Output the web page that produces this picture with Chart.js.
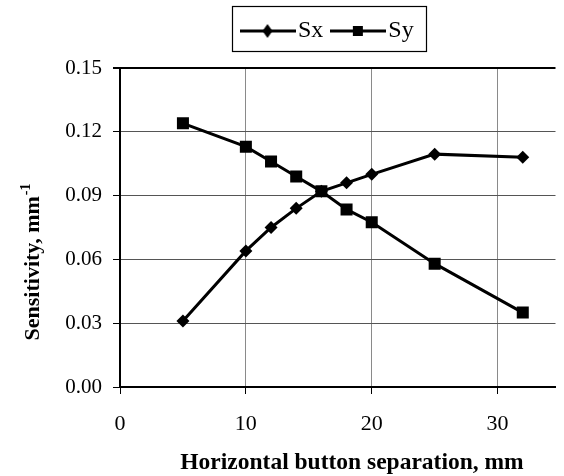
<!DOCTYPE html>
<html>
<head>
<meta charset="utf-8">
<script src="https://cdn.jsdelivr.net/npm/chart.js@4.4.1/dist/chart.umd.min.js"></script>
<style>
  html, body { margin: 0; padding: 0; background: #fff; overflow: hidden; }
  #wrap { width: 564px; height: 476px; position: relative; }
</style>
</head>
<body>
<div id="wrap"><canvas id="c" width="564" height="476"></canvas></div>
<script>
// ---- data ----
const separations = [5, 10, 12, 14, 16, 18, 20, 25, 32];
const sxValues = [0.031, 0.064, 0.075, 0.084, 0.092, 0.096, 0.100, 0.1095, 0.108];
const syValues = [0.124, 0.113, 0.106, 0.099, 0.092, 0.0835, 0.0775, 0.058, 0.035];
const seriesNames = ['Sx', 'Sy'];
const yTicks = [0, 0.03, 0.06, 0.09, 0.12, 0.15];
const xTicks = [0, 10, 20, 30];
const xTitle = 'Horizontal button separation, mm';
const yTitle = 'Sensitivity, mm';
const yTitleSup = '-1';

const FONT = "'Liberation Serif', 'Times New Roman', serif";

function legendSymbol(kind) {
  const c = document.createElement('canvas');
  c.width = 56; c.height = 16;
  const g = c.getContext('2d');
  g.strokeStyle = '#000'; g.lineWidth = 3;
  g.beginPath(); g.moveTo(0, 8); g.lineTo(56, 8); g.stroke();
  g.fillStyle = '#000';
  g.beginPath();
  if (kind === 'diamond') {
    g.moveTo(28, 1); g.lineTo(33, 8); g.lineTo(28, 15); g.lineTo(23, 8);
  } else {
    g.rect(23, 3, 10, 10);
  }
  g.closePath(); g.fill();
  return c;
}
const symSx = legendSymbol('diamond');
const symSy = legendSymbol('square');

const legendTweak = {
  id: 'legendTweak',
  afterLayout(chart) {
    const lg = chart.legend;
    if (!lg || !lg.lineWidths) return;
    const pad = lg.options.labels.padding;
    const cur = (lg.left + pad + lg.right - lg.lineWidths[0]) / 2;
    const shift = 249 - cur;
    lg.left += shift; lg.right += shift;
    lg.top = 3;
  },
  afterDraw(chart) {
    const ctx = chart.ctx;
    ctx.save();
    // legend frame
    ctx.strokeStyle = '#000';
    ctx.lineWidth = 1.2;
    ctx.strokeRect(232.5, 6.5, 194, 45);
    // axis titles
    ctx.fillStyle = '#000';
    ctx.textBaseline = 'alphabetic';
    // x title
    ctx.font = 'bold 23.5px ' + FONT;
    ctx.textAlign = 'center';
    ctx.fillText(xTitle, 352, 469);
    // y title (rotated) with superscript
    ctx.font = 'bold 22px ' + FONT;
    const wMain = ctx.measureText(yTitle).width;
    ctx.font = 'bold 14px ' + FONT;
    const wSup = ctx.measureText(yTitleSup).width;
    const total = wMain + 1 + wSup;
    ctx.translate(39, 262);
    ctx.rotate(-Math.PI / 2);
    ctx.textAlign = 'left';
    ctx.font = 'bold 22px ' + FONT;
    ctx.fillText(yTitle, -total / 2, 0);
    ctx.font = 'bold 14px ' + FONT;
    ctx.fillText(yTitleSup, -total / 2 + wMain + 1, -9);
    ctx.restore();
  }
};

const ctx = document.getElementById('c').getContext('2d');
new Chart(ctx, {
  type: 'line',
  data: {
    datasets: [
      {
        label: seriesNames[0],
        data: separations.map((x, i) => ({ x: x, y: sxValues[i] })),
        borderColor: '#000', backgroundColor: '#000', borderWidth: 3,
        pointStyle: 'rectRot', pointRadius: 6.5, pointBorderWidth: 0,
        pointBackgroundColor: '#000', tension: 0
      },
      {
        label: seriesNames[1],
        data: separations.map((x, i) => ({ x: x, y: syValues[i] })),
        borderColor: '#000', backgroundColor: '#000', borderWidth: 3,
        pointStyle: 'rect', pointRadius: 8.5, pointBorderWidth: 0,
        pointBackgroundColor: '#000', tension: 0
      }
    ]
  },
  options: {
    responsive: false,
    animation: false,
    layout: { padding: { top: 18, left: 0, right: 0, bottom: 0 } },
    plugins: {
      tooltip: { enabled: false },
      legend: {
        position: 'top',
        labels: {
          usePointStyle: true,
          pointStyleWidth: 37,
          padding: 16,
          color: '#000',
          font: { family: FONT, size: 24 },
          generateLabels(chart) {
            return chart.data.datasets.map((d, i) => ({
              text: d.label,
              pointStyle: i === 0 ? symSx : symSy,
              fillStyle: '#000', strokeStyle: '#000', lineWidth: 0,
              hidden: false, datasetIndex: i, fontColor: '#000'
            }));
          }
        }
      }
    },
    scales: {
      x: {
        type: 'linear',
        min: 0, max: 34.6,
        afterBuildTicks(axis) { axis.ticks = xTicks.map(v => ({ value: v })); },
        afterFit(axis) { axis.height = 89; },
        ticks: { color: '#000', font: { family: FONT, size: 22 }, padding: 17, maxRotation: 0 },
        grid: { color: '#8a8a8a', lineWidth: 1, tickLength: 7, tickColor: '#000' },
        border: { color: '#000', width: 2 },
        title: { display: false }
      },
      y: {
        min: 0, max: 0.15,
        afterBuildTicks(axis) { axis.ticks = yTicks.map(v => ({ value: v })); },
        afterFit(axis) { axis.width = 120; },
        ticks: {
          color: '#000', font: { family: FONT, size: 21 }, padding: 11,
          callback: v => Number(v).toFixed(2)
        },
        grid: {
          color: ctx => ctx.tick && ctx.tick.value >= 0.15 ? '#000' : '#555',
          lineWidth: ctx => ctx.tick && ctx.tick.value >= 0.15 ? 2 : 1,
          tickLength: 7, tickColor: '#000'
        },
        border: { color: '#000', width: 2 },
        title: { display: false }
      }
    }
  },
  plugins: [legendTweak]
});
</script>
</body>
</html>
